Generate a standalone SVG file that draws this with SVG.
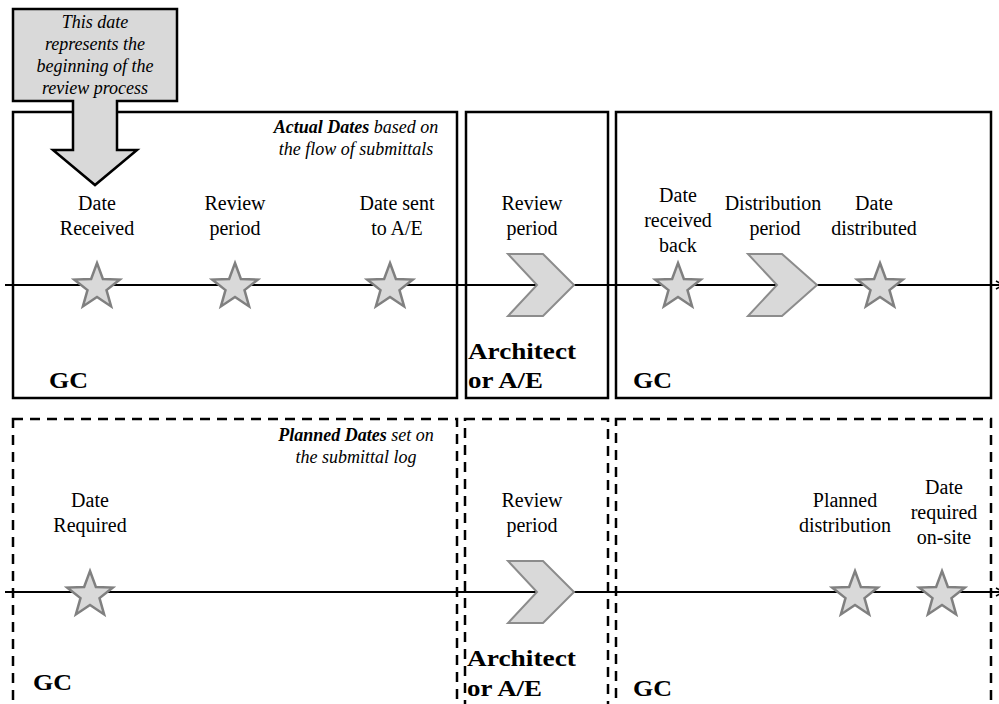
<svg xmlns="http://www.w3.org/2000/svg" width="999" height="704" viewBox="0 0 999 704">
<style>
.box{fill:none;stroke:#000;stroke-width:2.5}
.dbox{fill:none;stroke:#000;stroke-width:2.5;stroke-dasharray:10 7}
.axis{fill:none;stroke:#000;stroke-width:2}
.star{fill:#d9d9d9;stroke:#808080;stroke-width:2.5;stroke-linejoin:miter}
.chev{fill:#d9d9d9;stroke:#8c8c8c;stroke-width:2}
text{font-family:"Liberation Serif",Tinos,"Times New Roman","Noto Serif","DejaVu Serif",FreeSerif,"Nimbus Roman","Nimbus Roman No9 L",Times,serif}
.lbl{font-size:20px;fill:#000;text-anchor:middle}
.it{font-size:18px;font-style:italic;fill:#000;text-anchor:middle}
.bd{font-size:24px;font-weight:bold;fill:#000}
</style>
<defs>
<polygon id="star" class="star" points="0,-24 5.88,-8.09 22.83,-7.42 9.51,3.09 14.11,19.42 0,10 -14.11,19.42 -9.51,3.09 -22.83,-7.42 -5.88,-8.09"/>
<marker id="arr" markerWidth="10" markerHeight="10" refX="8" refY="5" orient="auto" markerUnits="userSpaceOnUse">
<path d="M1,1 L8,5 L1,9" fill="none" stroke="#000" stroke-width="1.5"/>
</marker>
</defs>
<rect width="999" height="704" fill="#fff"/>

<g id="box-actual-gc"><rect class="box" x="13" y="112" width="444" height="286"/></g>
<g id="box-actual-ae"><rect class="box" x="466" y="112" width="142" height="286"/></g>
<g id="box-actual-gc2"><rect class="box" x="616" y="112" width="375" height="286"/></g>
<g id="box-planned-gc"><rect class="dbox" x="13" y="419" width="444" height="300"/></g>
<g id="box-planned-ae"><rect class="dbox" x="465" y="419" width="143" height="300"/></g>
<g id="box-planned-gc2"><rect class="dbox" x="616" y="419" width="375" height="300"/></g>

<g id="connectors">
<line class="axis" x1="5" y1="285" x2="1003" y2="285" marker-end="url(#arr)"/>
<line class="axis" x1="5" y1="592" x2="1003" y2="592" marker-end="url(#arr)"/>
</g>

<g id="chevron-review-actual"><polygon class="chev" points="508,254 543,254 574,285 543,316 508,316 537,285"/></g>
<g id="chevron-distribution"><polygon class="chev" points="748,254 782,254 817,285 782,316 748,316 777,285"/></g>
<g id="chevron-review-planned"><polygon class="chev" points="508,561 543,561 574,592 543,623 508,623 537,592"/></g>

<g id="star-date-received"><use href="#star" x="97" y="287"/></g>
<g id="star-review-period"><use href="#star" x="235" y="287"/></g>
<g id="star-date-sent"><use href="#star" x="390" y="287"/></g>
<g id="star-received-back"><use href="#star" x="678" y="287"/></g>
<g id="star-distributed"><use href="#star" x="880" y="287"/></g>
<g id="star-date-required"><use href="#star" x="90" y="595"/></g>
<g id="star-planned-distribution"><use href="#star" x="855" y="595"/></g>
<g id="star-required-onsite"><use href="#star" x="942" y="595"/></g>

<g id="labels-actual">
<text class="it" x="356" y="133"><tspan font-weight="bold">Actual Dates</tspan> based on</text>
<text class="it" x="356" y="155">the flow of submittals</text>
<text class="lbl" x="97" y="210">Date</text>
<text class="lbl" x="97" y="235">Received</text>
<text class="lbl" x="235" y="210">Review</text>
<text class="lbl" x="235" y="235">period</text>
<text class="lbl" x="397" y="210">Date sent</text>
<text class="lbl" x="397" y="235">to A/E</text>
<text class="lbl" x="532" y="210">Review</text>
<text class="lbl" x="532" y="235">period</text>
<text class="lbl" x="678" y="202">Date</text>
<text class="lbl" x="678" y="227">received</text>
<text class="lbl" x="678" y="252">back</text>
<text class="lbl" x="773" y="210">Distribution</text>
<text class="lbl" x="775" y="235">period</text>
<text class="lbl" x="874" y="210">Date</text>
<text class="lbl" x="874" y="235">distributed</text>
<text class="bd" x="49" y="388" textLength="39" lengthAdjust="spacingAndGlyphs">GC</text>
<text class="bd" x="468" y="359" textLength="108" lengthAdjust="spacingAndGlyphs">Architect</text>
<text class="bd" x="468" y="388" textLength="75" lengthAdjust="spacingAndGlyphs">or A/E</text>
<text class="bd" x="633" y="388" textLength="39" lengthAdjust="spacingAndGlyphs">GC</text>
</g>

<g id="labels-planned">
<text class="it" x="356" y="441"><tspan font-weight="bold">Planned Dates</tspan> set on</text>
<text class="it" x="356" y="463">the submittal log</text>
<text class="lbl" x="90" y="507">Date</text>
<text class="lbl" x="90" y="532">Required</text>
<text class="lbl" x="532" y="507">Review</text>
<text class="lbl" x="532" y="532">period</text>
<text class="lbl" x="845" y="507">Planned</text>
<text class="lbl" x="845" y="532">distribution</text>
<text class="lbl" x="944" y="494">Date</text>
<text class="lbl" x="944" y="519">required</text>
<text class="lbl" x="944" y="544">on-site</text>
<text class="bd" x="33" y="690" textLength="39" lengthAdjust="spacingAndGlyphs">GC</text>
<text class="bd" x="467" y="666" textLength="109" lengthAdjust="spacingAndGlyphs">Architect</text>
<text class="bd" x="467" y="696" textLength="75" lengthAdjust="spacingAndGlyphs">or A/E</text>
<text class="bd" x="633" y="696" textLength="39" lengthAdjust="spacingAndGlyphs">GC</text>
</g>

<g id="callout">
<polygon points="13,9 177,9 177,101 117,101 117,150 137,150 95,185 53,150 73,150 73,101 13,101" fill="#d9d9d9" stroke="#000" stroke-width="2.5" stroke-linejoin="miter"/>
<text class="it" x="95" y="28">This date</text>
<text class="it" x="95" y="50">represents the</text>
<text class="it" x="95" y="72">beginning of the</text>
<text class="it" x="95" y="94">review process</text>
</g>
</svg>
